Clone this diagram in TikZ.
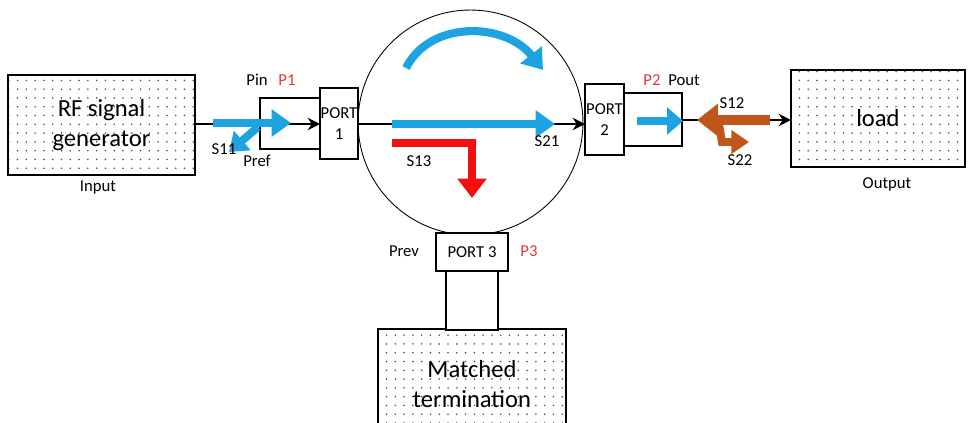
\documentclass[tikz,border=0pt]{standalone}
\usepackage{fontspec}
\setmainfont{Carlito}
\usepackage{xcolor}
\definecolor{wavblue}{HTML}{1CA3E0}
\definecolor{wavred}{HTML}{F01010}
\definecolor{wavbrown}{HTML}{C0571A}
\definecolor{portred}{HTML}{E03A3A}
\usetikzlibrary{arrows.meta,patterns.meta}

\begin{document}
\begin{tikzpicture}[x=0.02cm,y=-0.02cm,
  devbox/.style={draw, line width=0.7pt, pattern={Dots[distance=5pt, radius=0.5pt]}, pattern color=black!70, align=center, font=\fontsize{14}{17.5}\selectfont, inner sep=0pt, outer sep=0pt},
  portbox/.style={draw, fill=white, line width=0.6pt, align=center, font=\fontsize{9.5}{12}\selectfont, inner sep=0pt, outer sep=0pt},
  lbl/.style={font=\fontsize{9.5}{11}\selectfont, inner sep=0pt},
  plbl/.style={lbl, text=portred},
  feed/.style={line width=1.4pt, -{Stealth[length=7pt, width=7pt]}},
  bluearr/.style={draw=wavblue, line width=5pt, -{Triangle[width=15pt, length=11pt]}},
  redarr/.style={draw=wavred, line width=4.6pt, -{Triangle[width=16pt, length=11pt]}},
  brownarr/.style={draw=wavbrown, line width=5.5pt, -{Triangle[width=18pt, length=12pt]}}]
\useasboundingbox (0,0) rectangle (968,423);
\clip (0,0) rectangle (968,423);

% blocks
\node[devbox, minimum width=3.74cm, minimum height=2cm] (rf) at (101.5,125) {RF signal\\generator};
\draw[line width=1.6pt] (rf.south west) -- (rf.south east);
\node[devbox, minimum width=3.48cm, minimum height=1.94cm] (load) at (878,118.5) {load};
\node[devbox, minimum width=3.76cm, minimum height=2.2cm] (term) at (472,384) {Matched\\termination};

% circulator
\node[draw, circle, line width=0.5pt, minimum size=4.5cm, inner sep=0pt] (circ) at (470.5,122.5) {};

% port boxes
\node[portbox, minimum width=1.2cm, minimum height=1.02cm] (pin) at (290,123.5) {};
\node[portbox, minimum width=0.76cm, minimum height=1.42cm] (port1) at (339,123.5) {PORT\\1};
\node[portbox, minimum width=1.16cm, minimum height=1.06cm] (pout) at (653,119.5) {};
\node[portbox, minimum width=0.78cm, minimum height=1.42cm] (port2) at (604.5,119.5) {PORT\\2};
\node[portbox, minimum width=1.44cm, minimum height=0.76cm] (port3) at (472,252) {PORT 3};
\node[portbox, minimum width=1.04cm, minimum height=1.18cm] (stem) at (472,300.5) {};

% signal path
\coordinate (rfout) at (rf.east |- 0,124);
\draw[feed] (rfout) -- (rfout -| port1.west);
\draw[feed] (port1.east |- 0,124) -- (port2.west |- 0,124);
\draw[feed] (pout.east |- 0,120) -- (load.west |- 0,120);

% waves
\coordinate (s11a) at (213,123);
\coordinate (s11b) at (291,123);
\draw[bluearr] (s11a) -- (s11b);
\coordinate (refa) at (258,127);
\coordinate (refb) at (229,152);
\draw[bluearr, line width=4.5pt, -{Triangle[width=14pt, length=10pt]}] (refa) -- (refb);
\coordinate (s21a) at (392,124);
\coordinate (s21b) at (555,124);
\draw[bluearr] (s21a) -- (s21b);
\coordinate (arcA) at (406,68);
\coordinate (arcB) at (543,70);
\draw[bluearr, line width=4.6pt] (arcA) .. controls (430,20) and (505,22) .. (arcB);
\coordinate (s13a) at (392,143);
\coordinate (s13c) at (472,143);
\coordinate (s13b) at (472,198);
\draw[redarr] (s13a) -- ([xshift=2.3pt]s13c) -- (s13c) -- (s13b);
\coordinate (poa) at (637,121);
\coordinate (pob) at (683,121);
\draw[bluearr, -{Triangle[width=15pt, length=9pt]}] (poa) -- (pob);
\coordinate (s12a) at (770,120);
\coordinate (s12b) at (697,120);
\draw[brownarr] (s12a) -- (s12b);
\coordinate (s22a) at (719,124);
\coordinate (s22c) at (722,142);
\coordinate (s22b) at (749,142);
\draw[brownarr, line width=4.5pt, -{Triangle[width=13pt, length=10pt]}] (s22a) -- (s22c) -- (s22b);

% labels
\node[lbl] (inlbl) at (98,187) {Input};
\node[lbl] (outlbl) at (887,184) {Output};
\node[lbl] (pinlbl) at (257,80) {Pin};
\node[plbl] (p1lbl) at (287,80) {P1};
\node[lbl] (s11lbl) at (224,149) {S11};
\node[lbl] (preflbl) at (257,161) {Pref};
\node[lbl] (s13lbl) at (419,161) {S13};
\node[lbl] (s21lbl) at (547,141) {S21};
\node[plbl] (p2lbl) at (652,80) {P2};
\node[lbl] (poutlbl) at (684,80) {Pout};
\node[lbl] (s12lbl) at (732,103) {S12};
\node[lbl] (s22lbl) at (740,160) {S22};
\node[lbl] (prevlbl) at (404,251) {Prev};
\node[plbl] (p3lbl) at (529,251) {P3};
\end{tikzpicture}
\end{document}
